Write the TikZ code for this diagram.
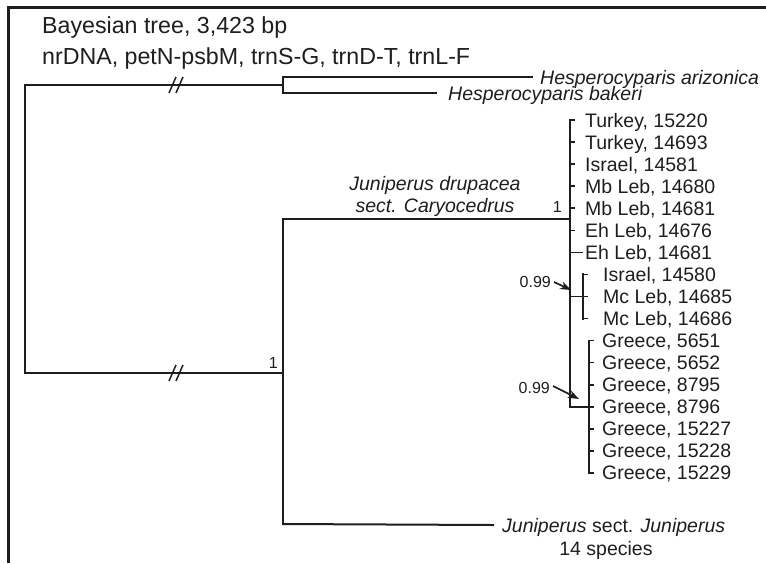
\documentclass[tikz,border=0pt]{standalone}
\usepackage{fontspec}
\setmainfont{Liberation Sans}
\usetikzlibrary{arrows.meta}
\definecolor{ink}{HTML}{1E1E1E}
\begin{document}
\begin{tikzpicture}[x=1pt,y=-1pt,
  br/.style={line width=2pt, draw=ink, line cap=rect},
  tk/.style={line width=1.6pt, draw=ink},
  frm/.style={line width=3pt, draw=ink, line join=miter},
  tiplab/.style={anchor=west, inner sep=0pt, text=ink, font=\fontsize{19.5}{22}\selectfont, text height=14pt, text depth=0pt},
  clab/.style={tiplab, anchor=center, font=\fontsize{19.5}{22}\selectfont\itshape},
  ttl/.style={anchor=base west, inner sep=0pt, text=ink, font=\fontsize{23.2}{28}\selectfont},
  sup/.style={inner sep=0pt, text=ink, font=\fontsize{16}{18}\selectfont, text height=11.5pt, text depth=0pt},
  arr/.style={line width=1.7pt, draw=ink, -{Stealth[length=11pt,width=8pt]}},
  brk/.pic={\draw[line width=1.5pt, draw=ink] (-9,8) -- (-2,-8) (-2,8) -- (5,-8);}
]
\useasboundingbox (0,0) rectangle (766,563);
\fill[white] (0,0) rectangle (766,563);
% frame
\draw[frm] (8,563) -- (8,7) -- (766,7);
% title
\node[ttl] (title1) at (42,33) {Bayesian tree, 3,423 bp};
\node[ttl] (title2) at (42,64) {nrDNA, petN-psbM, trnS-G, trnD-T, trnL-F};

% root
\coordinate (rt) at (25,85);
\coordinate (rb) at (25,373);
\coordinate (hesp) at (283,85);
\coordinate (jun) at (283,373);
\draw[br] (hesp) -- (rt) -- (rb) -- (jun);
\pic at (178,85) {brk};
\pic at (178,373) {brk};

% Hesperocyparis
\coordinate (ha) at (283,77);
\coordinate (hb) at (283,93);
\node[tiplab, font=\fontsize{19.5}{22}\selectfont\itshape] (ariz) at (540,77) {Hesperocyparis arizonica};
\node[tiplab, font=\fontsize{19.5}{22}\selectfont\itshape] (bak) at (448,93) {Hesperocyparis bakeri};
\draw[br] (ha) -- (hb);
\draw[br] (ha) -- ([xshift=-8pt]ariz.west);
\draw[br] (hb) -- ([xshift=-12pt]bak.west);

% Juniperus node
\coordinate (ja) at (283,219);
\coordinate (jb) at (283,524);
\coordinate (dru) at (570,219);
\draw[br] (ja) -- (jb);
\draw[br] (ja) -- (dru);
\node[sup, anchor=east] (s1) at (278,363) {1};
\node[clab] (d1) at (435,183) {Juniperus drupacea};
\node[clab] (d2) at (435,205) {sect. Caryocedrus};
\node[sup, anchor=east] (s2) at (562,207) {1};
\node[tiplab] (jj1) at (502,525) {\textit{Juniperus} sect. \textit{Juniperus}};
\node[tiplab, anchor=center] (jj2) at (606,548) {14 species};
\draw[br] (jb) -- ([xshift=-9pt]jj1.west);

% tips
\foreach \k/\xx/\lab in {0/585/{Turkey, 15220}, 1/585/{Turkey, 14693}, 2/585/{Israel, 14581},
  3/585/{Mb Leb, 14680}, 4/585/{Mb Leb, 14681}, 5/585/{Eh Leb, 14676}, 6/585/{Eh Leb, 14681},
  7/603/{Israel, 14580}, 8/603/{Mc Leb, 14685}, 9/603/{Mc Leb, 14686},
  10/602/{Greece, 5651}, 11/602/{Greece, 5652}, 12/602/{Greece, 8795}, 13/602/{Greece, 8796},
  14/602/{Greece, 15227}, 15/602/{Greece, 15228}, 16/602/{Greece, 15229}}
  {\node[tiplab] (t\k) at (\xx,{120+22.06*\k}) {\lab};}

% main clade vertical
\coordinate (mtop) at (570,120);
\coordinate (mbot) at (570,{120+22.06*13});
\draw[br] (mtop) -- (mbot);
\foreach \k in {0,...,5} {\draw[tk] (570,{120+22.06*\k}) -- ++(5,0);}
\draw[tk] (570,{120+22.06*6}) -- ([xshift=-2pt]t6.west);

% Israel / Mc Leb subclade
\coordinate (sa) at (583,{120+22.06*7});
\coordinate (sb) at (583,{120+22.06*9});
\coordinate (sm) at (570,{120+22.06*8});
\draw[br] (sa) -- (sb);
\draw[tk] (sm) -- ++(18,0);
\foreach \k in {7,9} {\draw[tk] (583,{120+22.06*\k}) -- ++(5,0);}

% Greece subclade
\coordinate (ga) at (589,{120+22.06*10});
\coordinate (gb) at (589,{120+22.06*16});
\draw[br] (ga) -- (gb);
\draw[tk] (mbot) -- ++(24,0);
\foreach \k in {10,11,12,14,15,16} {\draw[tk] (589,{120+22.06*\k}) -- ++(5,0);}

% support values with arrows
\node[sup, anchor=east] (p1) at (551,282) {0.99};
\node[sup, anchor=east] (p2) at (550,388) {0.99};
\coordinate (a1) at (571,290);
\coordinate (a2) at (579,399);
\draw[arr] ([xshift=3pt]p1.east) -- (a1);
\draw[arr] ([xshift=3pt,yshift=2pt]p2.east) -- (a2);
\end{tikzpicture}
\end{document}
